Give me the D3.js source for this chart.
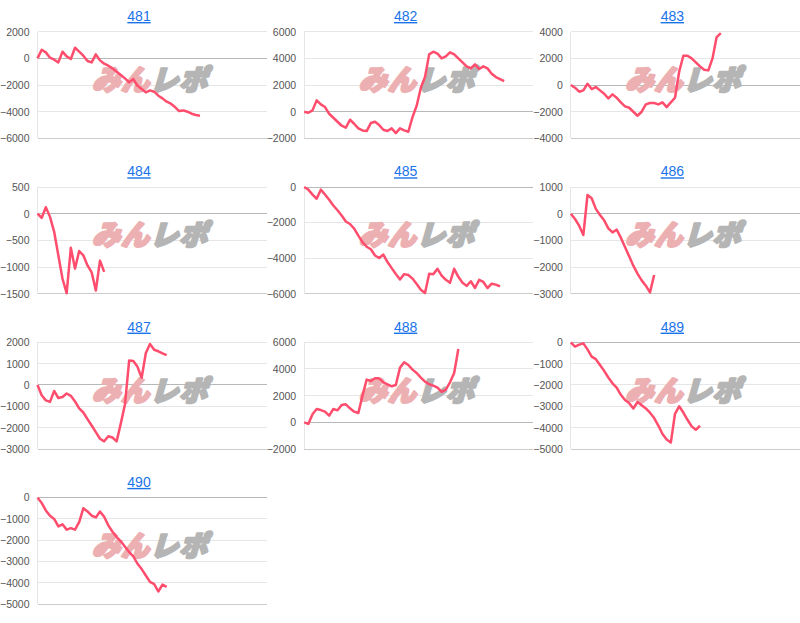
<!DOCTYPE html>
<html><head><meta charset="utf-8">
<script src="https://cdn.jsdelivr.net/npm/d3@7"></script>
<style>
body{margin:0;background:#fff;}
svg text{font-family:Arial,"Liberation Sans",sans-serif;}
</style>
</head><body>
<svg id="c" width="800" height="623"></svg>
<script>
// ---- data ----
const titles = ["481","482","483","484","485","486","487","488","489","490"];
const xMax = 55;

const ticks481 = [2000,0,-2000,-4000,-6000];
const ticks482 = [6000,4000,2000,0,-2000];
const ticks483 = [4000,2000,0,-2000,-4000];
const ticks484 = [500,0,-500,-1000,-1500];
const ticks485 = [0,-2000,-4000,-6000];
const ticks486 = [1000,0,-1000,-2000,-3000];
const ticks487 = [2000,1000,0,-1000,-2000,-3000];
const ticks488 = [6000,4000,2000,0,-2000];
const ticks489 = [0,-1000,-2000,-3000,-4000,-5000];
const ticks490 = [0,-1000,-2000,-3000,-4000,-5000];

const values481 = [0,650,450,50,-100,-300,500,150,-50,800,500,200,-200,-300,300,-150,-400,-550,-750,-1000,-1250,-1500,-1800,-1550,-2050,-2300,-2550,-2400,-2500,-2800,-3000,-3250,-3400,-3650,-3950,-3900,-4000,-4150,-4250,-4300];
const values482 = [0,-75,100,850,550,350,-150,-450,-750,-1050,-1200,-600,-900,-1250,-1400,-1450,-850,-750,-1000,-1350,-1450,-1250,-1600,-1250,-1400,-1500,-400,450,1800,2600,4300,4500,4350,4000,4150,4450,4300,4000,3700,3400,3250,3550,3200,3400,3250,2850,2600,2450,2300];
const values483 = [0,-200,-500,-400,100,-300,-150,-400,-650,-1000,-700,-950,-1300,-1600,-1700,-2000,-2300,-2000,-1450,-1350,-1350,-1450,-1300,-1650,-1300,-950,1000,2200,2200,2000,1700,1400,1150,1100,2000,3600,3900];
const values484 = [0,-80,120,-60,-340,-780,-1220,-1490,-640,-1030,-700,-780,-970,-1100,-1440,-880,-1090];
const values485 = [0,-150,-430,-660,-150,-420,-720,-1040,-1310,-1600,-1940,-2080,-2340,-2730,-3100,-3360,-3500,-3850,-3990,-3800,-4220,-4560,-4890,-5200,-4900,-4950,-5150,-5450,-5780,-5960,-4880,-4900,-4600,-4980,-5220,-5380,-4600,-5050,-5380,-5560,-5300,-5680,-5220,-5340,-5680,-5440,-5490,-5590];
const values486 = [0,-200,-450,-800,700,580,180,-50,-250,-550,-700,-600,-900,-1250,-1600,-1950,-2250,-2500,-2700,-2950,-2300];
const values487 = [0,-480,-720,-790,-280,-610,-560,-400,-510,-770,-1100,-1290,-1600,-1900,-2210,-2520,-2640,-2400,-2460,-2640,-1800,-900,1150,1120,850,340,1500,1920,1650,1580,1480,1400];
const values488 = [0,-120,600,1000,920,800,500,1000,900,1300,1350,1050,800,700,2000,3200,3100,3300,3300,3000,2850,2700,2800,4100,4500,4300,3950,3700,3350,3050,2850,2750,2600,2280,2450,3000,3700,5500];
const values489 = [0,-200,-110,-50,-330,-670,-790,-1060,-1340,-1650,-1920,-2120,-2460,-2700,-2850,-3100,-2800,-2950,-3100,-3300,-3550,-3900,-4300,-4550,-4700,-3350,-3000,-3290,-3630,-3940,-4100,-3910];
const values490 = [0,-250,-600,-850,-1000,-1350,-1250,-1500,-1430,-1500,-1150,-500,-650,-850,-930,-650,-900,-1300,-1600,-1850,-2050,-2300,-2550,-2750,-3100,-3350,-3650,-3950,-4050,-4400,-4080,-4180];

const tickSets = [ticks481,ticks482,ticks483,ticks484,ticks485,ticks486,ticks487,ticks488,ticks489,ticks490];
const valueSets = [values481,values482,values483,values484,values485,values486,values487,values488,values489,values490];

// ---- layout ----
const svg = d3.select("#c");
const colW = 800/3, rowH = 155.3;
const areaLeft = 37.5, areaTop = 31.7, areaH = 106.7;

titles.forEach((t, i) => {
  const col = i % 3, row = Math.floor(i / 3);
  const ox = col * colW, oy = row * rowH;
  const ticks = tickSets[i], vals = valueSets[i];
  const x = d3.scaleLinear().domain([0, xMax]).range([ox + areaLeft, ox + colW]);
  const y = d3.scaleLinear().domain([d3.min(ticks), d3.max(ticks)]).range([oy + areaTop + areaH, oy + areaTop]);
  const g = svg.append("g");

  // title
  g.append("text").attr("x", ox + 139).attr("y", oy + 21)
    .attr("text-anchor", "middle").attr("font-size", 14)
    .attr("fill", "#1a73e8").style("text-decoration", "underline").text(t);

  // gridlines
  const yMin = d3.min(ticks);
  ticks.forEach(v => {
    g.append("line").attr("x1", x(0)).attr("x2", x(xMax))
      .attr("y1", y(v)).attr("y2", y(v))
      .attr("stroke", v === 0 ? "#b8b8b8" : (v === yMin ? "#cccccc" : "#e6e6e6"))
      .attr("stroke-width", 1).attr("shape-rendering", "crispEdges");
  });
  g.append("line").attr("x1", x(0)).attr("x2", x(0))
    .attr("y1", y.range()[0]).attr("y2", y.range()[1])
    .attr("stroke", "#e6e6e6").attr("shape-rendering", "crispEdges");

  // axis labels
  const ax = d3.axisLeft(y).tickValues(ticks).tickSize(0).tickPadding(8).tickFormat(d3.format("d"));
  const axG = g.append("g").attr("transform", `translate(${x(0)},0)`).call(ax);
  axG.select(".domain").remove();
  axG.selectAll("text").attr("font-size", 10.5).attr("fill", "#555").attr("font-family", "Arial, 'Liberation Sans', sans-serif");

  // watermark
  const wm = g.append("text")
    .attr("transform", `translate(${ox + 150},${oy + 90}) skewX(-16)`)
    .attr("text-anchor", "middle")
    .attr("font-size", 28).attr("font-weight", 900)
    .style("font-family", "'Noto Sans CJK JP', sans-serif")
    .attr("stroke-width", 2.6).attr("stroke-linejoin", "round")
    .attr("letter-spacing", 1);
  wm.append("tspan").attr("fill", "#edb0b2").attr("stroke", "#edb0b2").text("みん");
  wm.append("tspan").attr("fill", "#b5b5b5").attr("stroke", "#b5b5b5").text("レポ");

  // line
  const line = d3.line().x((d, j) => x(j)).y(d => y(d));
  g.append("path").datum(vals).attr("d", line)
    .attr("fill", "none").attr("stroke", "#ff4d6d").attr("stroke-width", 2.5)
    .attr("stroke-linejoin", "round");
});
</script>
</body></html>
